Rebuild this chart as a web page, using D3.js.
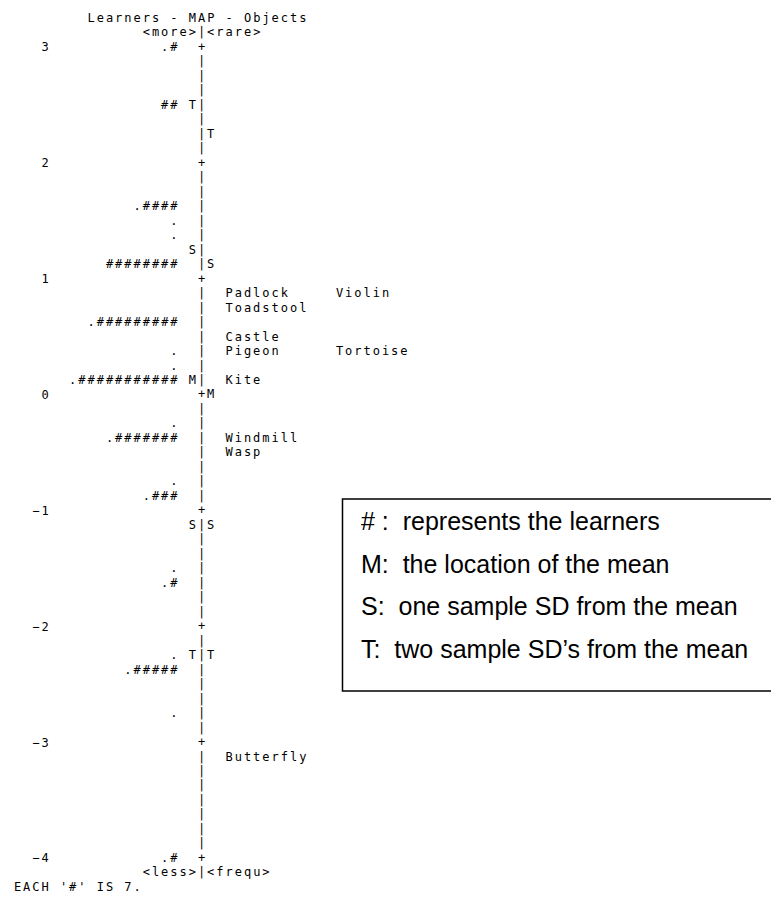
<!DOCTYPE html>
<html>
<head>
<meta charset="utf-8">
<script src="https://cdn.jsdelivr.net/npm/d3@7"></script>
<style>
  html, body { margin: 0; padding: 0; background: #fff; }
  svg { display: block; }
  .mono { font-family: "DejaVu Sans Mono", monospace; font-size: 12px; letter-spacing: 1.98px; fill: #000; white-space: pre; }
  .legend text { font-family: "Liberation Sans", Arial, sans-serif; font-size: 25px; fill: #000; white-space: pre; }
</style>
</head>
<body>
<script>
// Learner distribution: one row per measure (logits); each '#' is 7 learners, '.' is 1-6
const learnerMeasures = [3, 2.5, 1.625, 1.5, 1.375, 1.125, 0.625, 0.375, 0.25, 0.125, -0.25, -0.375, -0.75, -0.875, -1.5, -1.625, -2.25, -2.375, -2.75, -4];
const learnerHashes   = [1, 2, 4, 0, 0, 8, 9, 0, 0, 11, 0, 7, 0, 3, 0, 1, 0, 5, 0, 1];
const learnerDots     = [1, 0, 1, 1, 1, 0, 1, 1, 1, 1, 1, 1, 1, 1, 1, 1, 1, 1, 1, 1];

// Object difficulties (logits)
const itemNames    = ["Padlock", "Violin", "Toadstool", "Castle", "Pigeon", "Tortoise", "Kite", "Windmill", "Wasp", "Butterfly"];
const itemMeasures = [0.875, 0.875, 0.75, 0.5, 0.375, 0.375, 0.125, -0.375, -0.5, -3.125];

// Mean / SD markers for each side of the map
const markerLabels        = ["T", "S", "M", "S", "T"];
const learnerMarkerValues = [2.5, 1.25, 0.125, -1.125, -2.25];
const itemMarkerValues    = [2.25, 1.125, 0, -1.125, -2.25];

// Scale ticks
const tickValues = [3, 2, 1, 0, -1, -2, -3, -4];
const rowStep = 0.125;

const legendLines = [
  "# :  represents the learners",
  "M:  the location of the mean",
  "S:  one sample SD from the mean",
  "T:  two sample SD\u2019s from the mean"
];

const W = 771, H = 897;
const svg = d3.select("body").append("svg").attr("width", W).attr("height", H);

const y = d3.scaleLinear().domain([3, -4]).range([47, 858]);
const CW = 9.2;                               // character cell width
const colX = c => 197.9 + CW * c;              // left of text starting in column c (column 0 = the rule)
const baseDy = 3.9;

const g = svg.append("g");

function put(col, measure, str) {
  g.append("text").attr("class", "mono")
    .attr("x", colX(col)).attr("y", y(measure) + baseDy)
    .text(str);
}

// Header and footer
put(-12, 3.25, "Learners - MAP - Objects");
put(-6, 3.125, "<more>|<rare>");
put(-6, -4.125, "<less>|<frequ>");
put(-20, -4.25, "EACH '#' IS 7.");

// Central rule: '+' on whole logits, '|' elsewhere
const rows = d3.range(0, 57).map(r => 3 - r * rowStep);
g.selectAll("text.rule").data(rows).join("text")
  .attr("class", "mono rule")
  .attr("x", colX(0))
  .attr("y", d => y(d) + baseDy)
  .text(d => Number.isInteger(d) ? "+" : "|");

// Logit scale labels
const axis = d3.axisLeft(y).tickValues(tickValues).tickSize(0).tickPadding(0)
  .tickFormat(d3.format("d"));
const ax = svg.append("g").attr("transform", "translate(50.7,0)").call(axis);
ax.select(".domain").remove();
ax.selectAll("text")
  .attr("class", "mono")
  .attr("font-family", null).attr("font-size", null)
  .attr("fill", "#000")
  .attr("dy", null)
  .attr("y", baseDy);

// Learner rows, right-aligned to column -3
const learners = learnerMeasures.map((m, i) => ({
  m, str: (learnerDots[i] ? "." : "") + "#".repeat(learnerHashes[i])
}));
g.selectAll("text.learner").data(learners).join("text")
  .attr("class", "mono learner")
  .attr("x", d => colX(-2 - d.str.length))
  .attr("y", d => y(d.m) + baseDy)
  .text(d => d.str);

// Markers on either side of the rule
g.selectAll("text.lmark").data(learnerMarkerValues).join("text")
  .attr("class", "mono lmark")
  .attr("x", colX(-1)).attr("y", d => y(d) + baseDy)
  .text((d, i) => markerLabels[i]);
g.selectAll("text.imark").data(itemMarkerValues).join("text")
  .attr("class", "mono imark")
  .attr("x", colX(1)).attr("y", d => y(d) + baseDy)
  .text((d, i) => markerLabels[i]);

// Objects: items sharing a row are set in 12-character columns
const seen = new Map();
const items = itemNames.map((name, i) => {
  const m = itemMeasures[i];
  const k = seen.get(m) || 0;
  seen.set(m, k + 1);
  return { name, m, col: 3 + 12 * k };
});
g.selectAll("text.item").data(items).join("text")
  .attr("class", "mono item")
  .attr("x", d => colX(d.col))
  .attr("y", d => y(d.m) + baseDy)
  .text(d => d.name);

// Key box
const legend = svg.append("g").attr("class", "legend");
legend.append("rect")
  .attr("x", 342.5).attr("y", 499).attr("width", 460).attr("height", 192)
  .attr("fill", "#fff").attr("stroke", "#000").attr("stroke-width", 1.5);
legend.selectAll("text").data(legendLines).join("text")
  .attr("x", 361)
  .attr("y", (d, i) => 521 + 42.5 * i + 9)
  .text(d => d);
</script>
</body>
</html>
